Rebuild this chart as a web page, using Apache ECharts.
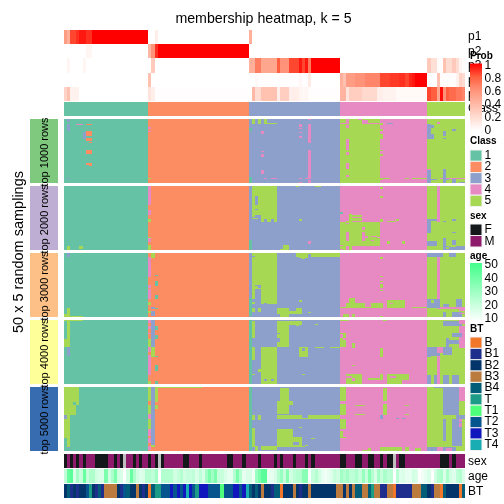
<!DOCTYPE html>
<html>
<head>
<meta charset="utf-8">
<style>html,body{margin:0;padding:0;background:#fff}#c{width:504px;height:504px}</style>
<script src="https://cdn.jsdelivr.net/npm/echarts@6/dist/echarts.min.js"></script>
</head>
<body>
<div id="c"></div>
<script>
// ---------- data ----------
const titleText = 'membership heatmap, k = 5';
const sideTitle = '50 x 5 random samplings';
const classCounts = [27, 32, 29, 28, 12];
const classNames = ['1', '2', '3', '4', '5'];
const probNames = ['p1', 'p2', 'p3', 'p4', 'p5'];
const panelNames = ['top 1000 rows', 'top 2000 rows', 'top 3000 rows', 'top 4000 rows', 'top 5000 rows'];
const sexNames = ['F', 'M'];
const btNames = ['B', 'B1', 'B2', 'B3', 'B4', 'T', 'T1', 'T2', 'T3', 'T4'];
const probTicks = ['1', '0.8', '0.6', '0.4', '0.2', '0'];
const ageTicks = ['50', '40', '30', '20', '10'];

// membership probabilities: [value, number of columns]
const p1Runs = [[.55,1],[.45,1],[.85,2],[.9,1],[.95,2],[.9,2],[1,18],[0,2],[.1,1],[0,29],[.45,1],[0,68]];
const p2Runs = [[0,7],[.05,2],[0,18],[.4,1],[.6,1],[.9,1],[1,29],[0,69]];
const p3Runs = [[0,1],[.05,1],[0,4],[.05,1],[0,20],[0,1],[.3,1],[0,30],[.45,2],[.68,2],[.5,5],[.8,1],[.6,3],[.85,3],[.95,1],[.85,1],[.95,1],[.7,1],[1,9],[0,28],[.3,1],[.18,2],[.02,2],[.35,1],[.2,2],[.3,1],[.2,1],[.05,1],[.02,1]];
const p4Runs = [[0,27],[.35,1],[0,31],[0,2],[.03,1],[.01,13],[.04,1],[.01,2],[.12,1],[0,9],[.45,1],[.35,1],[.55,3],[.6,3],[.65,5],[.85,3],[.88,3],[.9,2],[.85,1],[.92,1],[.95,1],[1,4],[0,3],[.35,1],[.02,5],[.08,1],[.25,1],[.2,1]];
const p5Runs = [[.25,1],[.35,1],[.08,3],[0,22],[.15,1],[.1,1],[.01,30],[0,1],[.4,1],[.2,2],[.35,5],[.1,1],[.28,3],[.1,3],[.06,1],[.04,1],[.06,1],[.02,1],[.01,9],[.42,2],[.15,1],[.28,4],[.22,5],[.1,2],[.07,4],[.03,10],[.85,1],[.8,2],[.5,1],[.97,1],[.6,1],[.8,1],[.75,2],[.7,2],[.65,1]];

// sample annotations: [label, number of columns]
const sexRuns = [['F',1],['M',1],['F',1],['M',1],['F',1],['M',1],['F',1],['M',3],['F',4],['M',2],['F',1],['M',1],['F',1],['NA',1],['M',2],['F',1],['M',1],['F',1],['M',2],['F',1],['M',1],['F',1],['NA',1],['F',1],['M',6],['F',2],['M',3],['F',1],['M',8],['F',2],['M',3],['F',1],['M',4],['F',1],['M',4],['F',1],['M',1],['F',1],['M',3],['F',1],['M',3],['F',1],['M',1],['F',1],['M',8],['F',2],['M',3],['F',2],['M',2],['F',2],['M',2],['F',1],['M',1],['F',2],['NA',1],['M',1],['F',2],['M',11],['F',3],['M',1],['F',1],['M',3]];
const ageValues = [23,42,45,18,29,22,42,22,27,27, 20,18,18,38,20,28,38,20,18,null, 20,42,28,20,17,18,26,26,24,30, null,26,26,26,26,20,22,26,20,22, 22,24,18,24,18,30,38,30,38,22, 22,18,15,15,26,38,26,15,18,18, 13,32,38,45,45,15,15,18,26,32, 22,35,20,24,26,26,35,35,12,22, 26,20,15,13,15,17,22,20,30,26, 30,24,24,28,22,32,22,36,26,18, 30,22,28,24,25,null,25,17,18,15, 15,20,18,null,13,15,18,null,20,26, 28,18,28,20,17,24,26,18];
const btRuns = [['B2',1],['B4',1],['B1',1],['B2',1],['B1',1],['B2',2],['T2',1],['T',1],['B2',1],['B1',1],['B4',1],['B1',1],['B3',4],['B2',1],['B1',1],['T2',1],['B4',1],['B2',2],['B3',1],['B2',1],['B1',1],['B2',1],['B',1],['B4',1],['T',2],['T2',3],['T3',1],['T2',1],['T3',1],['T2',1],['T3',1],['T4',1],['T3',1],['T2',1],['T',1],['T3',3],['T2',4],['T1',1],['T2',3],['T3',2],['T2',1],['T3',1],['T4',1],['B4',1],
 ['B2',1],['B4',1],['B2',1],['B3',1],['B2',2],['B1',1],['B4',2],['B',1],['B2',3],['B3',1],['B2',1],['B1',1],['B2',2],['B3',1],['B2',8],['B3',2],['B2',1],['B3',1],['B2',1],['B3',1],['B4',2],['B3',2],['B4',1],['T',1],['B3',2],['B1',2],['B3',2],['B',1],['B1',5],['B3',3],['B4',2],['B2',1],['B1',1],['B3',2],['B',1],['B4',1],['B2',4],['B',1],['B4',1]];

// Consensus classes per sampling: the deviations from each column's class,
// as [first column, last column, first row, last row, class]
const top1000Deviations = [
 [1,1,0,1,3],[4,5,4,4,4],[1,1,4,8,3],[6,6,10,15,3],[7,8,4,4,2],[7,8,9,12,2],[7,8,15,16,2],[8,8,18,18,2],[7,8,24,26,2],[7,8,34,35,2],[8,8,36,36,2],[1,1,46,46,3],
 [27,27,6,7,4],[27,27,9,9,4],[27,27,46,46,5],
 [59,59,7,8,1],[59,59,45,49,1],[60,60,0,3,5],[62,62,0,3,5],[64,64,0,3,5],[65,67,3,3,5],[63,63,9,11,4],[75,75,4,5,4],[75,75,7,7,4],[75,75,10,10,4],[75,75,13,14,4],[78,78,0,0,4],[78,78,4,18,4],[78,78,24,46,4],[78,78,48,49,4],[63,63,25,25,4],[63,63,27,29,4],[63,63,40,42,4],[64,64,46,46,4],[66,67,46,46,4],[75,75,46,46,4],[77,77,46,46,4],[75,75,49,49,4],
 [88,100,0,49,5],[88,89,3,3,4],[90,90,0,3,4],[90,90,5,6,4],[90,90,16,23,4],[90,90,26,27,4],[90,90,34,38,4],[90,90,44,44,4],[95,96,1,3,4],[97,100,3,3,4],[94,94,0,0,4],
 [101,101,3,4,5],[103,104,3,3,3],[101,101,8,8,5],[101,101,12,14,5],[101,101,15,15,5],[101,101,24,24,5],[101,101,27,28,5],[101,103,46,46,5],[109,109,46,46,5],[111,115,46,46,5],[101,101,47,47,5],
 [116,116,4,15,3],[117,117,5,6,3],[117,117,12,15,3],[119,119,2,3,4],[121,121,9,12,3],[124,124,8,8,3],[121,121,15,15,3],[116,116,39,39,4],[116,116,40,49,3],[117,118,47,47,3],[121,121,39,49,3],[122,122,47,47,3],[124,124,46,49,3],[126,127,49,49,3],[120,127,46,46,4],[121,121,46,46,3]
];
const top2000Deviations = [
 [1,1,47,49,5],[5,5,47,48,5],
 [27,27,0,14,4],[27,27,19,22,4],[27,27,26,27,5],[27,27,40,40,5],[27,27,41,43,4],[27,27,46,49,5],
 [60,67,0,27,5],[61,61,8,14,3],[61,61,18,18,3],[60,62,23,27,3],[60,61,25,25,5],[60,60,23,23,5],[64,64,26,27,3],[66,66,26,27,3],[59,59,42,49,1],
 [74,74,0,0,5],[80,81,0,0,5],[75,75,26,26,5],[78,78,43,44,4],[70,71,46,49,5],[69,69,49,49,5],
 [88,88,20,21,1],[91,91,22,27,5],[92,94,23,23,5],[92,94,25,26,5],[90,90,27,27,5],[88,100,28,46,5],[90,90,29,29,4],[90,90,36,42,4],[95,95,32,33,4],[95,95,36,42,4],[96,96,39,40,4],[98,99,39,39,4],[98,98,42,42,4],[100,100,40,40,4],[88,88,46,46,4],
 [88,100,47,49,4],[91,91,47,49,5],[88,88,47,48,5],[89,89,47,49,5],
 [101,101,26,27,5],[103,105,27,27,5],[106,106,26,26,5],[103,103,43,44,5],[108,108,43,44,5],[101,101,1,1,5],[101,101,8,8,5],
 [119,119,0,27,4],[116,118,26,26,3],[116,116,27,36,3],[121,121,27,27,3],[124,124,26,26,3],[124,124,36,36,3],[121,121,41,42,3],[124,124,42,46,3],[116,118,43,46,3],[121,127,47,49,3],[121,121,43,49,3],[123,124,46,47,5],[122,122,48,48,5]
];
const top3000Deviations = [
 [1,1,0,2,3],[1,1,43,49,5],[0,5,49,49,5],[0,0,48,48,5],
 [27,27,3,18,4],[28,28,0,3,5],[27,27,25,26,4],[27,27,28,28,4],[27,27,29,35,4],[27,27,38,40,5],[27,27,45,46,5],[28,28,42,43,3],[28,28,45,48,3],[29,29,17,17,1],[29,29,22,25,1],[29,29,33,35,1],[29,29,43,43,1],
 [60,67,0,39,5],[60,60,2,2,3],[61,62,25,25,3],[62,62,25,26,3],[61,62,28,37,3],[60,60,36,37,3],[61,61,38,39,3],[62,62,38,39,3],[64,64,39,39,3],[59,59,35,48,1],[60,60,43,45,5],[62,62,43,45,5],
 [74,87,0,2,5],[75,77,3,3,5],[78,78,1,2,3],[76,76,4,4,5],[68,71,43,47,5],[69,71,48,49,5],[72,75,45,47,5],[74,75,43,44,5],[75,75,37,37,5],[78,78,46,46,5],
 [101,101,3,4,5],[101,101,18,18,5],[101,101,22,22,5],[101,101,24,26,5],[101,101,29,29,5],[90,95,39,42,5],[91,92,35,38,5],[88,89,42,42,5],[95,98,42,42,5],[98,101,39,42,5],[103,108,37,42,5],[104,104,39,39,4],[111,115,42,42,5],[89,90,48,49,5],[92,92,48,49,5],[101,101,49,49,5],
 [116,120,0,2,3],[123,124,0,2,3],[119,119,3,49,4],[116,119,36,42,3],[125,126,36,42,3],[120,127,42,43,4],[117,117,37,38,5],[116,120,44,49,5],[121,121,46,49,3],[124,126,46,49,3],[126,127,44,44,4],[126,127,47,47,4],[121,122,40,41,3]
];
const top4000Deviations = [
 [0,5,0,0,5],[1,1,1,14,5],[0,1,15,20,5],[1,1,21,27,3],
 [27,27,0,1,4],[27,27,5,6,4],[27,27,10,10,4],[27,27,15,20,5],[27,27,21,24,4],[27,27,27,42,4],[27,27,48,49,5],[28,28,0,20,3],[28,28,21,28,5],[29,29,5,7,1],[29,29,12,14,1],[29,29,28,28,1],[29,29,35,39,1],[29,29,48,49,1],
 [59,59,0,49,1],[60,60,1,13,5],[68,71,1,20,5],[68,68,10,10,3],[68,68,14,16,3],[72,75,1,3,5],[74,74,4,4,5],[80,80,3,3,5],
 [60,60,21,30,5],[63,67,21,49,5],[62,62,38,40,5],[60,60,42,42,5],[64,64,46,47,3],[66,66,46,47,3],[75,77,21,28,5],[76,76,22,23,3],[80,82,21,21,5],[85,87,21,21,5],[76,76,42,42,5],
 [88,90,0,0,5],[88,89,10,20,5],[88,88,11,13,4],[89,89,14,15,4],[92,92,18,21,5],[101,101,22,28,5],[92,92,35,35,5],[102,102,0,0,5],[90,94,42,49,5],[90,91,44,44,4],[92,92,45,47,4],[97,101,42,46,5],[97,100,42,44,4],[103,109,42,46,5],[103,107,47,49,5],[104,105,44,44,4],
 [121,126,1,4,3],[126,127,0,2,4],[126,127,5,21,4],[124,126,10,12,3],[122,122,14,20,3],[123,125,16,18,3],[116,119,21,27,3],[119,120,21,25,4],[121,123,21,26,3],[116,116,28,28,3],[119,119,28,49,4],[116,116,43,49,3],[118,118,43,49,3],[121,122,43,49,3],[124,125,43,49,3]
];
const top5000Deviations = [
 [0,4,0,13,5],[0,3,14,21,5],[3,3,12,13,1],[0,0,22,24,3],[1,1,22,39,5],[0,1,25,39,5],[1,1,40,46,5],[1,1,47,47,3],
 [27,27,0,10,5],[27,27,14,20,5],[27,27,21,24,4],[27,27,25,33,5],[27,27,33,37,4],[27,27,40,43,4],[27,27,46,48,4],[28,28,0,44,3],[28,28,45,46,5],[29,29,1,11,5],[29,29,14,16,5],[29,43,0,0,5],
 [59,59,0,49,1],[60,60,22,25,5],[62,62,22,25,5],[60,60,32,46,5],[61,61,46,49,5],[63,67,46,48,5],[69,71,1,11,5],[68,72,11,13,5],[68,71,14,20,5],[68,87,22,24,5],[76,77,22,23,3],[68,72,33,46,5],[72,75,39,46,5],[75,75,31,31,5],[75,76,46,46,5],[79,79,40,40,5],[77,77,45,45,5],[73,74,43,44,3],
 [88,89,0,10,5],[88,89,13,21,5],[88,88,34,38,5],[88,89,25,32,5],[88,89,39,39,5],[102,102,1,10,5],[102,102,13,21,5],[93,95,14,14,5],[93,95,21,21,5],[101,101,22,24,3],[106,106,24,24,3],[108,108,24,24,3],[109,109,21,21,5],[109,109,14,14,5],[101,107,47,49,5],[109,109,47,49,5],[112,113,48,49,5],[95,97,49,49,5],[97,97,48,49,5],
 [121,125,0,21,3],[126,127,0,10,4],[118,120,0,0,3],[125,127,22,24,3],[121,121,25,41,3],[124,126,25,45,3],[126,126,25,26,4],[126,126,28,30,4],[116,118,47,49,3],[119,120,47,49,4],[121,124,47,49,3],[122,123,48,49,4]
];
const panelDeviations = [top1000Deviations, top2000Deviations, top3000Deviations, top4000Deviations, top5000Deviations];
const rowCount = 50;

// ---------- colours ----------
const classColors = ['#66C2A5', '#FC8D62', '#8DA0CB', '#E78AC3', '#A6D854'];
const panelColors = ['#7FC97F', '#BEAED4', '#FDC086', '#FFFF99', '#386CB0'];
const sexColors = ['#14181A', '#8E1A6B'];
const naColor = '#BEBEBE';
const btColors = ['#F1772A', '#1E2E8C', '#03356B', '#BC7B3E', '#025E78', '#1C9C86', '#4DFF7A', '#06558F', '#0F17BD', '#17ADB2'];
const probRamp = ['#FFFFFF', '#FFDCD2', '#FFB8A5', '#FF9379', '#FF5F3E', '#FF0000'];
const ageRamp = ['#FFFFFF', '#42FF8A'];

// ---------- expansion of the run lists into columns ----------
const expand = runs => runs.flatMap(([v, n]) => Array(n).fill(v));
const probRows = [p1Runs, p2Runs, p3Runs, p4Runs, p5Runs].map(expand);
const colClass = classCounts.flatMap((n, i) => Array(n).fill(i));
const colCount = colClass.length;
const sexCodes = expand(sexRuns).map(s => s === 'NA' ? 2 : sexNames.indexOf(s));
const btCodes = expand(btRuns).map(s => btNames.indexOf(s));

// ---------- layout ----------
const L = 64, W = 401;
const panelTop = [119, 186, 253, 320, 387], panelH = 64;

// One cell of a matrix, placed by the axes and snapped to whole pixels so that
// neighbouring cells leave no seam.
function renderCell(params, api) {
  const p = api.coord([api.value(0), api.value(1)]);
  const s = api.size([1, 1]);
  const x0 = Math.round(p[0] - s[0] / 2 - 0.3), x1 = Math.round(p[0] + s[0] / 2 - 0.3);
  const y0 = Math.round(p[1] - s[1] / 2), y1 = Math.round(p[1] + s[1] / 2);
  return {type: 'rect', shape: {x: x0, y: y0, width: x1 - x0, height: y1 - y0}, style: {fill: api.visual('color')}};
}

const grid = [], xAxis = [], yAxis = [], series = [];
const seriesByKind = {prob: [], class: [], panel: [], sex: [], age: [], bt: []};
function addMatrix(kind, box, cols, rows, data) {
  const i = grid.length;
  grid.push(box);
  xAxis.push({type: 'category', gridIndex: i, show: false, data: Array.from({length: cols}, (_, k) => k)});
  yAxis.push({type: 'category', gridIndex: i, show: false, inverse: true, data: Array.from({length: rows}, (_, k) => k)});
  seriesByKind[kind].push(series.length);
  series.push({type: 'custom', xAxisIndex: i, yAxisIndex: i, data, silent: true, progressive: 0, animation: false,
    renderItem: renderCell, encode: {x: 0, y: 1}, clip: false});
}

// probability rows
const probData = [];
probRows.forEach((row, r) => row.forEach((v, c) => probData.push([c, r, v])));
addMatrix('prob', {left: L, top: 30, width: W + 0.3, height: 71}, colCount, 5, probData);
// class row
addMatrix('class', {left: L, top: 102, width: W + 0.3, height: 14}, colCount, 1, colClass.map((k, c) => [c, 0, k]));
// consensus panels
panelDeviations.forEach((devs, p) => {
  const m = Array.from({length: rowCount}, () => colClass.slice());
  devs.forEach(([c0, c1, r0, r1, k]) => {
    for (let r = r0; r <= r1; r++) for (let c = c0; c <= c1; c++) m[r][c] = k - 1;
  });
  const d = [];
  m.forEach((row, r) => row.forEach((k, c) => d.push([c, r, k])));
  addMatrix('class', {left: L, top: panelTop[p], width: W + 0.3, height: panelH}, colCount, rowCount, d);
  addMatrix('panel', {left: 30, top: panelTop[p], width: 28, height: panelH}, 1, 1, [[0, 0, p]]);
});
// bottom annotations
addMatrix('sex', {left: L, top: 454, width: W + 0.3, height: 14}, colCount, 1, sexCodes.map((k, c) => [c, 0, k]));
addMatrix('age', {left: L, top: 469, width: W + 0.3, height: 14}, colCount, 1, ageValues.map((v, c) => [c, 0, v === null ? -1 : v]));
addMatrix('bt', {left: L, top: 484, width: W + 0.3, height: 14}, colCount, 1, btCodes.map((k, c) => [c, 0, k]));

const pieces = colors => colors.map((color, i) => ({value: i, color}));
const hidden = {show: false, dimension: 2};
const visualMap = [
  Object.assign({type: 'continuous', min: 0, max: 1, seriesIndex: seriesByKind.prob, inRange: {color: probRamp}}, hidden),
  Object.assign({type: 'piecewise', seriesIndex: seriesByKind.class, pieces: pieces(classColors)}, hidden),
  Object.assign({type: 'piecewise', seriesIndex: seriesByKind.panel, pieces: pieces(panelColors)}, hidden),
  Object.assign({type: 'piecewise', seriesIndex: seriesByKind.sex, pieces: pieces(sexColors.concat(naColor))}, hidden),
  Object.assign({type: 'continuous', min: 10, max: 50, seriesIndex: seriesByKind.age, inRange: {color: ageRamp}, outOfRange: {color: naColor}}, hidden),
  Object.assign({type: 'piecewise', seriesIndex: seriesByKind.bt, pieces: pieces(btColors)}, hidden)
];

// ---------- text and legends ----------
const FONT = '"Liberation Sans", Arial, sans-serif';
const g = [];
const text = (x, y, s, o = {}) => g.push({type: 'text', x, y, rotation: o.rot || 0, z: o.z || 10, style: {
  text: s, fontFamily: FONT, fontSize: o.size || 12, fontWeight: o.weight || 'normal', fill: o.fill || '#000',
  align: o.align || 'left', verticalAlign: 'middle'}});
const rect = (x, y, w, h, fill, z = 8) => g.push({type: 'rect', z, shape: {x, y, width: w, height: h}, style: {fill, stroke: '#F2F2F2', lineWidth: 1}});
const grad = (x, y, w, h, colors) => g.push({type: 'rect', z: 8, shape: {x, y, width: w, height: h}, style: {fill: {
  type: 'linear', x: 0, y: 0, x2: 0, y2: 1, colorStops: colors.map((color, i) => ({offset: i / (colors.length - 1), color}))}}});

text(263.5, 19, titleText, {size: 14.2, align: 'center'});
text(19, 252, sideTitle, {size: 14.5, align: 'center', rot: Math.PI / 2});
panelNames.forEach((s, i) => text(45, panelTop[i] + panelH / 2 + 1, s, {size: 11, align: 'center', rot: Math.PI / 2, z: 12}));

probNames.forEach((s, i) => text(468, 37 + i * 14.4, s, {size: 12, z: 5}));
text(468, 109, 'Class', {size: 12, z: 5});
text(468, 461.5, 'sex', {size: 12});
text(468, 477, 'age', {size: 12});
text(468, 491.5, 'BT', {size: 12});

text(470, 56.5, 'Prob', {size: 10, weight: 'bold', z: 9});
grad(470, 63.5, 12, 67, probRamp.slice().reverse());
probTicks.forEach((s, i) => text(484.5, 66 + i * 13, s, {size: 12}));

text(470, 141.5, 'Class', {size: 10, weight: 'bold'});
classNames.forEach((s, i) => { rect(470, 150 + i * 11.3, 12, 11.3, classColors[i]); text(484.5, 155.7 + i * 11.3, s, {size: 12}); });

text(470, 216, 'sex', {size: 10, weight: 'bold'});
sexNames.forEach((s, i) => { rect(470, 224 + i * 11.5, 12, 11.5, sexColors[i]); text(484.5, 229.7 + i * 11.5, s, {size: 12}); });

text(470, 256, 'age', {size: 10, weight: 'bold'});
grad(470, 263, 12, 58.5, ageRamp.slice().reverse());
ageTicks.forEach((s, i) => text(484.5, 264.7 + i * 13.5, s, {size: 12}));

text(470, 329, 'BT', {size: 10, weight: 'bold'});
btNames.forEach((s, i) => { rect(470, 337 + i * 11.35, 12, 11.35, btColors[i]); text(484.5, 342.7 + i * 11.35, s, {size: 12}); });

const chart = echarts.init(document.getElementById('c'), null, {renderer: 'canvas', width: 504, height: 504});
chart.setOption({animation: false, backgroundColor: '#fff', grid, xAxis, yAxis, visualMap, series, graphic: {elements: g}});
</script>
</body>
</html>
